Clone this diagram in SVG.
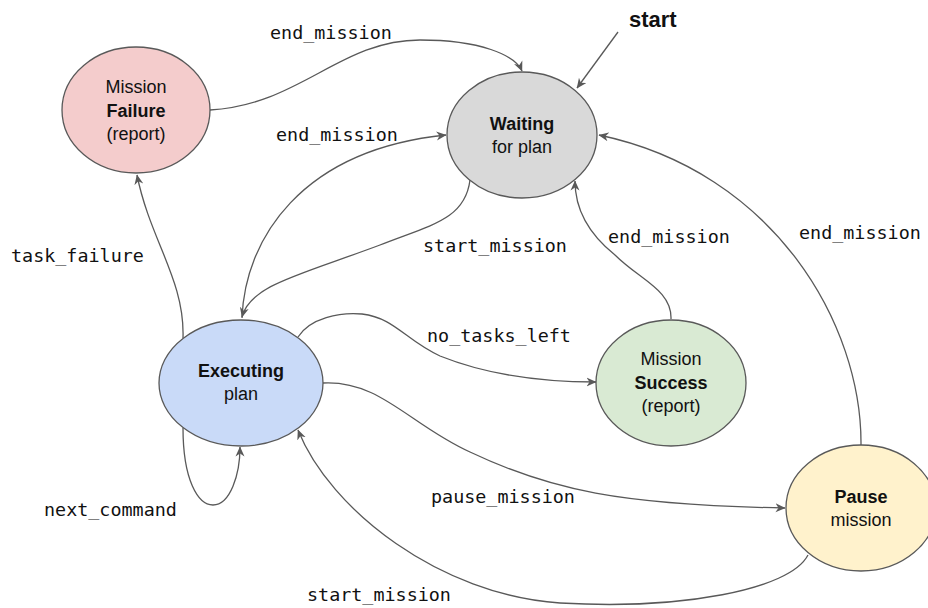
<svg xmlns="http://www.w3.org/2000/svg" width="928" height="608" viewBox="0 0 928 608">
  <style>
    .node { stroke: #595959; stroke-width: 1.3; }
    .name { font-family: "Liberation Sans", Arial, sans-serif; font-size: 18px; fill: #111; text-anchor: middle; }
    .bold { font-weight: bold; }
    .edge { fill: none; stroke: #595959; stroke-width: 1.3; marker-end: url(#arrow); }
    .lbl { font-family: "DejaVu Sans Mono", "Liberation Mono", monospace; font-size: 18.4px; fill: #111; }
  </style>
  <defs>
    <marker id="arrow" viewBox="0 0 10 10" refX="9.5" refY="5" markerWidth="10" markerHeight="10" markerUnits="userSpaceOnUse" orient="auto">
      <path d="M0,0.5 L10,5 L0,9.5 L3,5 z" fill="#595959"/>
    </marker>
  </defs>
  <rect width="928" height="608" fill="#ffffff"/>

  <!-- transitions -->
  <g id="connectors">
    <path class="edge" d="M210,110 C300,105 340,40 420,40 C480,40 515,55 522,71"/>
    <path class="edge" d="M618,32 L577,88"/>
    <path class="edge" d="M242,318 C245,240 300,150 446,135"/>
    <path class="edge" d="M470,180 C465,220 430,225 380,245 C300,275 250,285 242,317"/>
    <path class="edge" d="M183,338 C185,280 150,240 137,175"/>
    <path class="edge" d="M671,319 C672,290 640,280 615,255 C590,235 575,210 575,181"/>
    <path class="edge" d="M861,445 C862,325 775,172 599,135"/>
    <path class="edge" d="M298,337 C310,318 340,312 362,314 C395,318 405,340 440,356 C480,372 530,382 596,382"/>
    <path class="edge" d="M323,383 C380,380 410,425 470,452 C550,490 620,505 785,508"/>
    <path class="edge" d="M808,555 C790,590 680,610 560,603 C440,595 330,510 298,430"/>
    <path class="edge" d="M183,428 C183,480 198,505 213,505 C230,505 240,475 240,447"/>
  </g>

  <!-- transition labels -->
  <g id="labels">
    <text class="lbl" x="270" y="39">end_mission</text>
    <text class="lbl" x="276" y="141">end_mission</text>
    <text class="lbl" x="11" y="262">task_failure</text>
    <text class="lbl" x="423" y="252">start_mission</text>
    <text class="lbl" x="608" y="243">end_mission</text>
    <text class="lbl" x="799" y="239">end_mission</text>
    <text class="lbl" x="427" y="342">no_tasks_left</text>
    <text class="lbl" x="44" y="516">next_command</text>
    <text class="lbl" x="431" y="503">pause_mission</text>
    <text class="lbl" x="307" y="601">start_mission</text>
    <text x="629" y="27" font-family="Liberation Sans, Arial, sans-serif" font-size="22" font-weight="bold" fill="#111">start</text>
  </g>

  <g id="failure">
    <ellipse class="node" cx="136" cy="110" rx="74" ry="63" fill="#f4cccc"/>
    <text class="name" x="136" y="93">Mission</text>
    <text class="name bold" x="136" y="117">Failure</text>
    <text class="name" x="136" y="140">(report)</text>
  </g>

  <g id="waiting">
    <ellipse class="node" cx="522" cy="135" rx="75" ry="63" fill="#d9d9d9"/>
    <text class="name bold" x="522" y="130">Waiting</text>
    <text class="name" x="522" y="153">for plan</text>
  </g>

  <g id="executing">
    <ellipse class="node" cx="241" cy="383" rx="82" ry="63" fill="#c9daf8"/>
    <text class="name bold" x="241" y="377">Executing</text>
    <text class="name" x="241" y="400">plan</text>
  </g>

  <g id="success">
    <ellipse class="node" cx="671" cy="383" rx="75" ry="63" fill="#d9ead3"/>
    <text class="name" x="671" y="365">Mission</text>
    <text class="name bold" x="671" y="389">Success</text>
    <text class="name" x="671" y="412">(report)</text>
  </g>

  <g id="pause">
    <ellipse class="node" cx="861" cy="508" rx="75" ry="63" fill="#fff2cc"/>
    <text class="name bold" x="861" y="503">Pause</text>
    <text class="name" x="861" y="526">mission</text>
  </g>
</svg>
